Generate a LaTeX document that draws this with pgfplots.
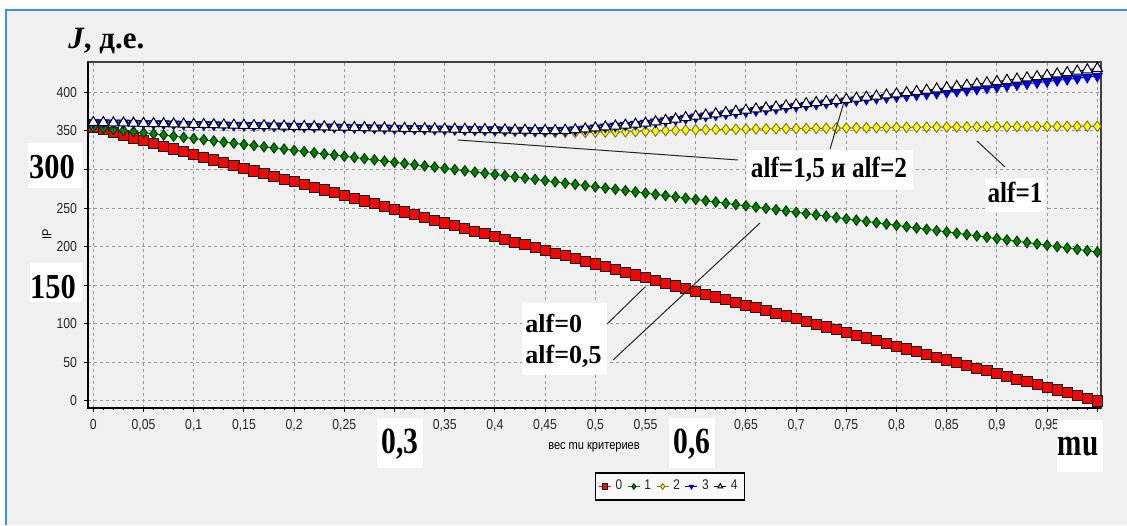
\documentclass[border=0pt]{standalone}
\usepackage{pgfplots}
\pgfplotsset{compat=1.18}
\usepackage{pgfplotstable}
\usepackage{fontspec}
\setmainfont{Liberation Serif}
\newfontfamily\ticksf[FakeStretch=0.85]{Liberation Sans}
\newfontfamily\bigser[FakeStretch=0.87]{Liberation Serif}
\definecolor{bg}{HTML}{F0F0F0}
\definecolor{frameblue}{HTML}{3D8FE0}
\definecolor{gridgray}{HTML}{9A9A9A}
\definecolor{cred}{HTML}{FF0000}
\definecolor{cgreen}{HTML}{008000}
\definecolor{cyellow}{HTML}{FFFF00}
\definecolor{cblue}{HTML}{0000C8}
\newcommand{\tickfont}{\ticksf\fontsize{7.2}{8}\selectfont}
\newcommand{\legfont}{\ticksf\fontsize{7}{8}\selectfont}

\pgfplotstableread{
mu s0 s1 s2 s3 s4
0.00 355.0 355.0 361.0 361.0 361.0
0.01 351.5 353.5 360.7 360.8 360.8
0.02 347.9 352.0 360.4 360.5 360.5
0.03 344.4 350.5 360.2 360.3 360.3
0.04 340.8 349.1 359.9 360.0 360.0
0.05 337.3 347.6 359.6 359.8 359.8
0.06 333.7 346.1 359.3 359.5 359.5
0.07 330.2 344.6 359.0 359.3 359.3
0.08 326.6 343.1 358.8 359.0 359.0
0.09 323.1 341.6 358.5 358.8 358.8
0.10 319.5 340.1 358.2 358.5 358.5
0.11 316.0 338.6 357.9 358.3 358.3
0.12 312.4 337.0 357.6 358.0 358.0
0.13 308.9 335.5 357.4 357.8 357.8
0.14 305.3 334.0 357.1 357.5 357.5
0.15 301.8 332.5 356.8 357.3 357.3
0.16 298.2 331.0 356.5 357.0 357.0
0.17 294.7 329.4 356.2 356.8 356.8
0.18 291.1 327.9 356.0 356.5 356.5
0.19 287.6 326.4 355.7 356.3 356.3
0.20 284.0 324.8 355.4 356.0 356.0
0.21 280.5 323.3 355.1 355.8 355.8
0.22 276.9 321.8 354.8 355.5 355.5
0.23 273.4 320.2 354.6 355.3 355.3
0.24 269.8 318.7 354.3 355.0 355.0
0.25 266.3 317.1 354.0 354.8 354.8
0.26 262.7 315.6 353.7 354.5 354.5
0.27 259.2 314.0 353.4 354.3 354.3
0.28 255.6 312.5 353.2 354.0 354.0
0.29 252.1 310.9 352.9 353.8 353.8
0.30 248.5 309.3 352.6 353.5 353.5
0.31 245.0 307.8 352.3 353.3 353.3
0.32 241.4 306.2 352.0 353.1 353.1
0.33 237.9 304.6 351.8 352.9 352.9
0.34 234.3 303.1 351.5 352.7 352.7
0.35 230.8 301.5 351.2 352.5 352.5
0.36 227.2 299.9 350.9 352.3 352.3
0.37 223.7 298.3 350.6 352.1 352.1
0.38 220.1 296.7 350.4 351.9 351.9
0.39 216.6 295.2 350.1 351.7 351.7
0.40 213.0 293.6 349.8 351.5 351.5
0.41 209.5 292.0 349.5 351.3 351.3
0.42 205.9 290.4 349.2 351.1 351.1
0.43 202.4 288.8 349.0 350.9 350.9
0.44 198.8 287.2 348.7 350.7 350.7
0.45 195.3 285.6 348.4 350.5 350.5
0.46 191.7 284.0 348.1 350.5 350.5
0.47 188.2 282.3 348.0 350.8 350.8
0.48 184.6 280.7 348.0 351.5 351.5
0.49 181.1 279.1 348.1 352.6 352.6
0.50 177.5 277.5 348.3 354.0 354.0
0.51 174.0 275.9 348.5 355.1 355.1
0.52 170.4 274.3 348.7 356.3 356.3
0.53 166.9 272.6 348.9 357.5 357.5
0.54 163.3 271.0 349.2 358.7 358.7
0.55 159.8 269.4 349.5 360.0 360.0
0.56 156.2 267.7 349.9 361.6 361.8
0.57 152.7 266.1 350.3 363.2 363.6
0.58 149.1 264.5 350.7 364.8 365.4
0.59 145.6 262.8 351.1 366.4 367.2
0.60 142.0 261.2 351.5 368.0 369.0
0.61 138.5 259.5 351.7 369.4 370.6
0.62 134.9 257.9 351.9 370.8 372.2
0.63 131.4 256.2 352.0 372.2 373.8
0.64 127.8 254.5 352.2 373.6 375.4
0.65 124.3 252.9 352.4 375.0 377.0
0.66 120.7 251.2 352.5 376.4 378.4
0.67 117.2 249.6 352.7 377.8 379.8
0.68 113.6 247.9 352.8 379.2 381.2
0.69 110.1 246.2 352.9 380.6 382.6
0.70 106.5 244.5 353.0 382.0 384.0
0.71 103.0 242.9 353.2 383.4 385.4
0.72 99.4 241.2 353.3 384.8 386.8
0.73 95.9 239.5 353.5 386.2 388.2
0.74 92.3 237.8 353.6 387.6 389.6
0.75 88.8 236.1 353.8 389.0 391.0
0.76 85.2 234.4 353.9 390.1 392.4
0.77 81.7 232.7 354.0 391.2 393.8
0.78 78.1 231.0 354.2 392.3 395.2
0.79 74.6 229.3 354.3 393.4 396.6
0.80 71.0 227.6 354.5 394.5 398.0
0.81 67.5 225.9 354.6 395.6 399.6
0.82 63.9 224.2 354.7 396.7 401.2
0.83 60.4 222.5 354.8 397.8 402.8
0.84 56.8 220.8 354.9 398.9 404.4
0.85 53.3 219.1 355.0 400.0 406.0
0.86 49.7 217.4 355.1 401.4 407.6
0.87 46.2 215.6 355.2 402.8 409.2
0.88 42.6 213.9 355.3 404.2 410.8
0.89 39.1 212.2 355.4 405.6 412.4
0.90 35.5 210.5 355.5 407.0 414.0
0.91 32.0 208.7 355.5 408.4 415.6
0.92 28.4 207.0 355.6 409.8 417.2
0.93 24.9 205.3 355.7 411.2 418.8
0.94 21.3 203.5 355.7 412.6 420.4
0.95 17.8 201.8 355.8 414.0 422.0
0.96 14.2 200.0 355.8 415.4 423.8
0.97 10.7 198.3 355.9 416.8 425.6
0.98 7.1 196.5 355.9 418.2 427.4
0.99 3.6 194.8 356.0 419.6 429.2
1.00 0.0 193.0 356.0 421.0 431.0
}\datatable

\begin{document}
\begin{tikzpicture}
\useasboundingbox (0,0) rectangle (563.5pt,262.5pt);
\fill[white] (0,0) rectangle (563.5pt,262.5pt);
\begin{scope}[x=0.5pt,y=-0.5pt,yshift=262.5pt]
\fill[bg] (6,10) rectangle (1127,525);
\draw[frameblue,line width=0.8pt] (6,525) -- (6,10) -- (1127,10);
\end{scope}
\begin{axis}[
  at={(44pt,58.5pt)}, anchor=south west,
  scale only axis, width=506.5pt, height=173pt,
  xmin=-0.0053, xmax=1.0037, ymin=-9.1, ymax=439.3,
  clip=false,
  xtick={0,0.05,0.1,0.15,0.2,0.25,0.3,0.35,0.4,0.45,0.5,0.55,0.6,0.65,0.7,0.75,0.8,0.85,0.9,0.95,1},
  xticklabels={0,{0,05},{0,1},{0,15},{0,2},{0,25},{},{0,35},{0,4},{0,45},{0,5},{0,55},{},{0,65},{0,7},{0,75},{0,8},{0,85},{0,9},{0,95},{}},
  ytick={0,50,100,150,200,250,300,350,400},
  yticklabels={0,50,100,{},200,250,{},350,400},
  minor x tick num=4,
  tick align=outside,
  major tick length=2pt, minor tick length=1.2pt,
  tick style={black, line width=0.5pt},
  xtick pos=bottom, ytick pos=left,
  grid=major,
  major grid style={gridgray, dash pattern=on 1.5pt off 1.5pt, line width=0.5pt},
  axis line style={draw=black!75, line width=0.6pt},
  xticklabel style={font=\tickfont, text=black!85},
  yticklabel style={font=\tickfont, text=black!85},
  xlabel={вес mu критериев},
  xlabel style={font=\ticksf\fontsize{6.5}{7}\selectfont, at={(axis description cs:0.4995,-0.1127)}, anchor=center},
  ylabel={IP},
  ylabel style={font=\ticksf\fontsize{6.5}{7}\selectfont, at={(axis description cs:-0.0405,0.503)}, anchor=center},
  legend style={at={(axis description cs:0.5745,-0.2269)}, anchor=center,
    draw=black, line width=0.9pt, fill=white!60!bg, inner sep=1.5pt,
    font=\legfont, text=black!85,
    /tikz/every even column/.append style={column sep=0.5pt},
    /tikz/every odd column/.append style={column sep=0pt}},
  legend columns=-1,
  legend image code/.code={%
    \draw[#1,line width=0.6pt] (0pt,0pt) -- (6pt,0pt);
    \draw[#1,mark size=1.4pt] plot coordinates {(3pt,0pt)};},
  after end axis/.code={%
    \draw[black, line width=1.3pt] (rel axis cs:0,1) -- (rel axis cs:0,0) -- (rel axis cs:1,0);},
]
\addplot[cred, line width=0.5pt, mark=square*, mark size=2.55pt,
  mark options={fill=cred, draw=black!70!teal, line width=0.45pt}]
  table[x=mu, y=s0] {\datatable};
\addlegendentry{0}
\addplot[cgreen, line width=0.5pt, mark=diamond*, mark size=2.6pt,
  mark options={fill=cgreen, draw=black!80!green, line width=0.45pt}]
  table[x=mu, y=s1] {\datatable};
\addlegendentry{1}
\addplot[olive, line width=0.5pt, mark=diamond*, mark size=2.6pt,
  mark options={fill=cyellow, draw=olive!80!black, line width=0.45pt}]
  table[x=mu, y=s2] {\datatable};
\addlegendentry{2}
\addplot[cblue, line width=0.5pt, mark=triangle*, mark size=3pt,
  mark options={fill=cblue, draw=cblue, rotate=180, line width=0.3pt}]
  table[x=mu, y=s3] {\datatable};
\addlegendentry{3}
\addplot[black, line width=0.5pt, mark=triangle*, mark size=3pt,
  mark options={fill=white, draw=black, line width=0.5pt}]
  table[x=mu, y=s4] {\datatable};
\addlegendentry{4}
\end{axis}
\begin{scope}[x=0.5pt,y=-0.5pt,yshift=262.5pt]
% leader lines
\draw[black!85, line width=0.5pt] (458,140) -- (738,160);
\draw[black!85, line width=0.5pt] (830,149) -- (844,102);
\draw[black!85, line width=0.5pt] (977,141) -- (1005,167);
\draw[black!85, line width=0.5pt] (607,324) -- (645,287);
\draw[black!85, line width=0.5pt] (613,360) -- (760,223);
% title
\node[anchor=base west, inner sep=0pt] at (68,49)
  {\fontsize{15.5}{16}\selectfont\bfseries\textit{J}, д.е.};
% boxed labels
\fill[white] (28,143) rectangle (82,188);
\node[anchor=base, inner sep=0pt] at (52,179) {\bigser\bfseries\fontsize{17.5}{18}\selectfont 300};
\fill[white] (30,263) rectangle (82,302);
\node[anchor=base, inner sep=0pt] at (53,298) {\bigser\bfseries\fontsize{17.5}{18}\selectfont 150};
\fill[white] (377,418) rectangle (423,468);
\node[anchor=base, inner sep=0pt] at (400,453) {\bigser\bfseries\fontsize{18.5}{19}\selectfont\scalebox{0.92}[1]{0,3}};
\fill[white] (669,418) rectangle (715,468);
\node[anchor=base, inner sep=0pt] at (692,453) {\bigser\bfseries\fontsize{18.5}{19}\selectfont\scalebox{0.92}[1]{0,6}};
\fill[white] (1057,420) rectangle (1103,472);
\node[anchor=base, inner sep=0pt] at (1078,455) {\bigser\bfseries\fontsize{19.5}{20}\selectfont\scalebox{0.86}[1]{mu}};
\fill[white] (747,150) rectangle (913,190);
\node[anchor=base, inner sep=0pt] at (829,178) {\bigser\bfseries\fontsize{14.5}{15}\selectfont alf=1,5 и alf=2};
\fill[white] (985,178) rectangle (1045,212);
\node[anchor=base, inner sep=0pt] at (1015,203) {\bigser\bfseries\fontsize{14.5}{15}\selectfont alf=1};
\fill[white] (522,303) rectangle (607,375);
\node[anchor=base west, inner sep=0pt] at (525,332) {\fontsize{13}{14}\selectfont\bfseries alf=0};
\node[anchor=base west, inner sep=0pt] at (525,363) {\fontsize{13}{14}\selectfont\bfseries alf=0,5};
\end{scope}
\end{tikzpicture}
\end{document}
